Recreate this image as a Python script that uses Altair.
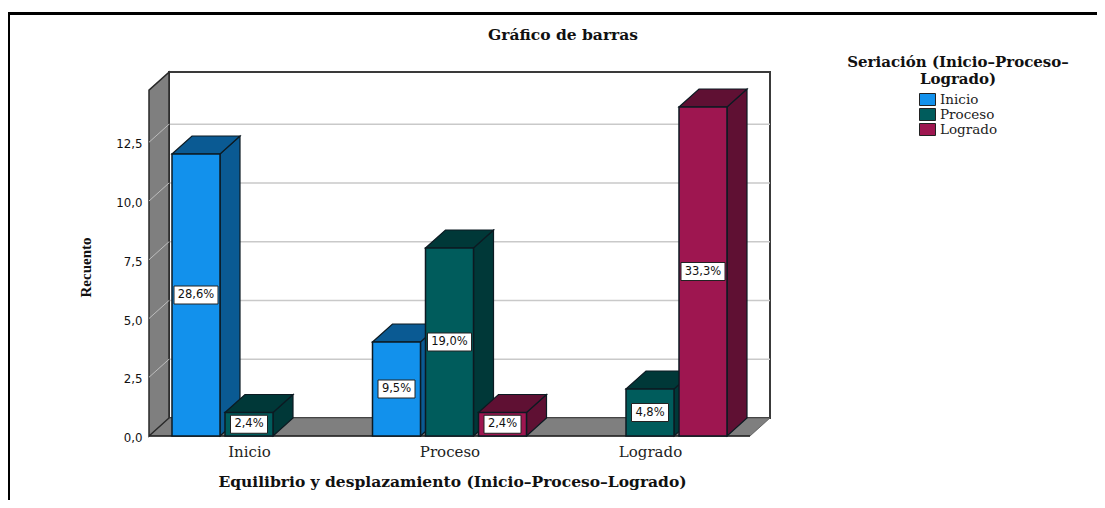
import altair as alt
import pandas as pd

# ---- values ----
categories = ["Inicio", "Proceso", "Logrado"]
series = ["Inicio", "Proceso", "Logrado"]
counts = [[12, 1, 0], [4, 8, 1], [0, 2, 14]]
percents = [["28,6%", "2,4%", ""], ["9,5%", "19,0%", "2,4%"], ["", "4,8%", "33,3%"]]
front_colors = ["#1291EC", "#005C5C", "#9E1650"]
side_colors = ["#0A5A93", "#003838", "#5F1033"]
y_ticks = [0, 2.5, 5, 7.5, 10, 12.5]

# ---- layout constants (svg pixels = x units) ----
W, H = 1089, 492
PX_PER_COUNT = 23.5
ZERO_Y = 428
DEPTH_X, DEPTH_Y = 20, 18 / PX_PER_COUNT
X_START, CAT_STEP, SER_STEP, BAR_W = 164, 200.5, 53, 48
FLOOR_L, FLOOR_R = 141, 742
WALL_TOP = 14.72
EDGE = "#0C1A22"
GREY = "#7F7F7F"
y_domain = [-(H - ZERO_Y) / PX_PER_COUNT, ZERO_Y / PX_PER_COUNT]
x_scale = alt.Scale(domain=[0, W], range=[0, W], nice=False, zero=False)
y_scale = alt.Scale(domain=y_domain, nice=False, zero=False)
X = lambda f="x": alt.X(f"{f}:Q", scale=x_scale, axis=None)
Y = lambda f="y": alt.Y(f"{f}:Q", scale=y_scale, axis=None)
cat_center = {c: X_START + CAT_STEP * i + (2 * SER_STEP + BAR_W) / 2 for i, c in enumerate(categories)}

fronts, sides, tops, boxes = [], [], [], []
for ci, cat in enumerate(categories):
    for si, ser in enumerate(series):
        v = counts[ci][si]
        if v == 0:
            continue
        x0 = X_START + CAT_STEP * ci + SER_STEP * si
        bid = f"{cat}-{ser}"
        fronts.append(dict(x=x0, x2=x0 + BAR_W, y=0, y2=v, serie=ser))
        c = side_colors[si]
        for xx, lo, hi in [(x0 + BAR_W, 0, v), (x0 + BAR_W + DEPTH_X, DEPTH_Y, v + DEPTH_Y)]:
            sides.append(dict(id=bid, c=c, x=xx, y=lo, y2=hi))
        for xx, lo, hi in [(x0, v, v), (x0 + DEPTH_X, v, v + DEPTH_Y), (x0 + BAR_W, v, v + DEPTH_Y),
                           (x0 + BAR_W + DEPTH_X, v + DEPTH_Y, v + DEPTH_Y)]:
            tops.append(dict(id=bid, c=c, x=xx, y=lo, y2=hi))
        t = percents[ci][si]
        half = 22 if len(t) == 5 else 18.5
        cx = x0 + BAR_W / 2
        boxes.append(dict(x=cx - half, x2=cx + half, y=v / 2 - 9 / PX_PER_COUNT, y2=v / 2 + 9 / PX_PER_COUNT,
                          cx=cx, cy=v / 2, t=t))

fronts, sides, tops, boxes = map(pd.DataFrame, (fronts, sides, tops, boxes))

wall = pd.DataFrame([dict(x=FLOOR_L, y=0, y2=WALL_TOP), dict(x=FLOOR_L + DEPTH_X, y=DEPTH_Y, y2=WALL_TOP + DEPTH_Y)])
floor = pd.DataFrame([dict(x=FLOOR_L, y=0, y2=0), dict(x=FLOOR_L + DEPTH_X, y=0, y2=DEPTH_Y),
                      dict(x=FLOOR_R, y=0, y2=DEPTH_Y), dict(x=FLOOR_R + DEPTH_X, y=DEPTH_Y, y2=DEPTH_Y)])
back = pd.DataFrame([dict(x=FLOOR_L + DEPTH_X, x2=FLOOR_R + DEPTH_X, y=DEPTH_Y, y2=WALL_TOP + DEPTH_Y)])
grid = pd.DataFrame([dict(x=FLOOR_L + DEPTH_X, x2=FLOOR_R + DEPTH_X, y=t + DEPTH_Y) for t in y_ticks[1:]])
wall_grid = pd.DataFrame([dict(t=t, x=xx, y=yy) for t in y_ticks[1:]
                          for xx, yy in [(FLOOR_L, t), (FLOOR_L + DEPTH_X, t + DEPTH_Y)]])
base_line = pd.DataFrame([dict(x=FLOOR_L, x2=FLOOR_R, y=0)])

serif = "DejaVu Serif"

# carries the real axes
back_layer = alt.Chart(back).mark_rect(fill="white", stroke="#3A3A3A", strokeWidth=2).encode(
    x=alt.X("x:Q", scale=x_scale, title="Equilibrio y desplazamiento (Inicio–Proceso–Logrado)",
            axis=alt.Axis(values=list(cat_center.values()), orient="bottom", offset=-(H - ZERO_Y), domain=False,
                          ticks=False, grid=False, labelPadding=8, labelFont=serif, labelFontSize=15, labelColor="#222",
                          labelExpr="datum.value < 300 ? 'Inicio' : datum.value < 500 ? 'Proceso' : 'Logrado'",
                          labelOverlap=False, titleFont=serif, titleFontSize=15.5, titleFontWeight="bold", titleColor="#111",
                          titleAnchor="start", titleX=444, titleY=38, titleAlign="center")),
    x2="x2:Q",
    y=alt.Y("y:Q", scale=y_scale, title="Recuento",
            axis=alt.Axis(values=y_ticks, offset=-FLOOR_L, domain=False, ticks=False, grid=False, labelPadding=7,
                          labelOffset=1.5, labelFont="DejaVu Sans", labelFontSize=11.8, labelColor="#111",
                          labelExpr="replace(format(datum.value, '.1f'), '.', ',')",
                          titleFont="Liberation Serif", titleFontSize=15, titleFontWeight="bold", titleColor="#111",
                          titleX=-56, titleY=259, titleAnchor="start", titleAlign="center", titleAngle=270)),
    y2="y2:Q",
)
grid_layer = alt.Chart(grid).mark_rule(color="#C9C9C9", strokeWidth=1.5).encode(x=X(), x2="x2:Q", y=Y())
floor_layer = alt.Chart(floor).mark_area(color=GREY, stroke="#555555", strokeWidth=0.8).encode(x=X(), y=Y(), y2="y2:Q")
wall_layer = alt.Chart(wall).mark_area(color=GREY, stroke="#2A2A2A", strokeWidth=1.5).encode(x=X(), y=Y(), y2="y2:Q")
wall_grid_layer = alt.Chart(wall_grid).mark_line(color="#BDBDBD", strokeWidth=1).encode(x=X(), y=Y(), detail="t:N")
base_layer = alt.Chart(base_line).mark_rule(color="#222", strokeWidth=1.5).encode(x=X(), x2="x2:Q", y=Y())
side_layer = alt.Chart(sides).mark_area(stroke=EDGE, strokeWidth=1.2).encode(
    x=X(), y=Y(), y2="y2:Q", detail="id:N", color=alt.Color("c:N", scale=None))
top_layer = alt.Chart(tops).mark_area(stroke=EDGE, strokeWidth=1.2).encode(
    x=X(), y=Y(), y2="y2:Q", detail="id:N", color=alt.Color("c:N", scale=None))
front_layer = alt.Chart(fronts).mark_bar(stroke=EDGE, strokeWidth=1.5).encode(
    x=X(), x2="x2:Q", y=Y(), y2="y2:Q",
    color=alt.Color("serie:N", scale=alt.Scale(domain=series, range=front_colors), sort=series,
                    legend=alt.Legend(title=None, orient="none", legendX=911, legendY=84,
                                      symbolType="M-1,-0.75H1V0.75H-1Z", symbolSize=256, symbolStrokeColor="#222",
                                      symbolStrokeWidth=1, clipHeight=15, rowPadding=0, labelOffset=4,
                                      labelFont=serif, labelFontSize=13.5, labelColor="#222")),
)
box_layer = alt.Chart(boxes).mark_rect(fill="white", stroke="#222", strokeWidth=1).encode(
    x=X(), x2="x2:Q", y=Y(), y2="y2:Q")
box_text = alt.Chart(boxes).mark_text(font="DejaVu Sans", fontSize=11.5, color="#111").encode(
    x=X("cx"), y=Y("cy"), text="t:N")

legend_title = alt.Chart(pd.DataFrame([dict(x=950, y=(ZERO_Y - 54) / PX_PER_COUNT, t="Seriación (Inicio–Proceso–"),
                                       dict(x=950, y=(ZERO_Y - 71) / PX_PER_COUNT, t="Logrado)")])).mark_text(
    font=serif, fontSize=15, fontWeight="bold", color="#111").encode(x=X(), y=Y(), text="t:N")

frame_top = alt.Chart(pd.DataFrame([dict(a=0)])).mark_rect(color="black").encode(
    x=alt.value(0), x2=alt.value(W), y=alt.value(4), y2=alt.value(7))
frame_left = alt.Chart(pd.DataFrame([dict(a=0)])).mark_rect(color="black").encode(
    x=alt.value(0), x2=alt.value(2), y=alt.value(4), y2=alt.value(H))

chart = alt.layer(
    back_layer, grid_layer, floor_layer, wall_layer, wall_grid_layer, base_layer,
    side_layer, top_layer, front_layer, box_layer, box_text, legend_title, frame_top, frame_left,
).resolve_scale(color="independent").resolve_axis(x="independent", y="independent").properties(
    width=W, height=H, padding=0, autosize=alt.AutoSizeParams(type="none"), background="white",
    title=alt.TitleParams("Gráfico de barras", font=serif, fontSize=15.5, fontWeight="bold", color="#111",
                          anchor="start", frame="group", align="center", dx=555, dy=39),
).configure_view(stroke=None)

chart.save("out.html", embed_options={"renderer": "svg", "actions": False})
